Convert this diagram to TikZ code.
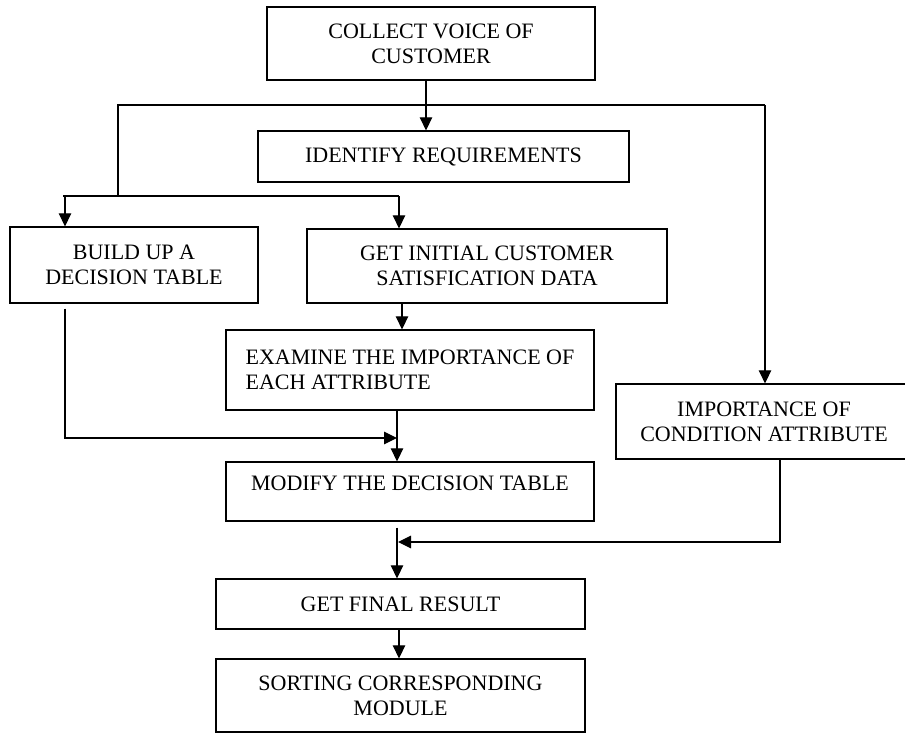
\documentclass[tikz,border=0pt]{standalone}
\usepackage{fontspec}
\setmainfont{Liberation Serif}
\usetikzlibrary{arrows.meta}
\begin{document}
\begin{tikzpicture}[x=1pt,y=-1pt,
  box/.style={draw,line width=1.3pt,inner sep=0pt,align=center,font=\fontsize{22}{25}\selectfont},
  conn/.style={line width=1.2pt},
  arr/.style={conn,-{Triangle[length=13pt,width=12.5pt]}}]
\useasboundingbox (0,0) rectangle (905,734);
\clip (0,0) rectangle (905,734);
\fill[white] (0,0) rectangle (905,734);
% boxes
\node[box,minimum width=328,minimum height=73] (voc) at (431,43.5) {COLLECT VOICE OF\\CUSTOMER};
\node[box,minimum width=371,minimum height=51] (req) at (443.5,156.5) {IDENTIFY REQUIREMENTS};
\node[box,minimum width=248,minimum height=76] (build) at (134,265) {BUILD UP A\\DECISION TABLE};
\node[box,minimum width=360,minimum height=74] (init) at (487,266) {GET INITIAL CUSTOMER\\SATISFICATION DATA};
\node[box,minimum width=368,minimum height=80,align=left] (exam) at (410,370) {EXAMINE THE IMPORTANCE OF\\EACH ATTRIBUTE};
\node[box,minimum width=296,minimum height=75] (cond) at (764,421.5) {IMPORTANCE OF\\CONDITION ATTRIBUTE};
\node[box,minimum width=368,minimum height=59,text depth=17pt] (mod) at (410,491.5) {MODIFY THE DECISION TABLE};
\node[box,minimum width=369,minimum height=50] (final) at (400.5,604) {GET FINAL RESULT};
\node[box,minimum width=369,minimum height=73] (sort) at (400.5,695.5) {SORTING CORRESPONDING\\MODULE};
% junction coordinates
\coordinate (tl) at (118,105);
\coordinate (tr) at (765,105);
\coordinate (ml) at (118,196);
\coordinate (hl) at (63,196);
\coordinate (hb) at (65,196);
\coordinate (hr) at (399,196);
\coordinate (bl) at (65,438);
\coordinate (m1) at (397,438);
\coordinate (cb) at (780,542);
\coordinate (m2) at (398,542);
% connectors
\draw[arr] ([xshift=-5pt]voc.south) -- ([xshift=-5pt]voc.south |- req.north);
\draw[conn] (ml) -- (tl) -- (tr);
\draw[arr] (tr) -- (tr |- cond.north);
\draw[conn] (hl) -- (hr);
\draw[arr] (hb) -- (hb |- build.north);
\draw[arr] (hr) -- (hr |- init.north);
\draw[arr] ([xshift=-85pt]init.south) -- ([xshift=-85pt]init.south |- exam.north);
\draw[arr] ([xshift=-69pt,yshift=-5pt]build.south) -- (bl) -- (m1);
\draw[arr] ([xshift=-13pt]exam.south) -- ([xshift=-13pt]exam.south |- mod.north);
\draw[arr] (cond.south -| cb) -- (cb) -- (m2);
\draw[arr] ([xshift=-13pt,yshift=-6pt]mod.south) -- ([xshift=-13pt]mod.south |- final.north);
\draw[arr] ([xshift=-1.5pt]final.south) -- ([xshift=-1.5pt]final.south |- sort.north);
\end{tikzpicture}
\end{document}
